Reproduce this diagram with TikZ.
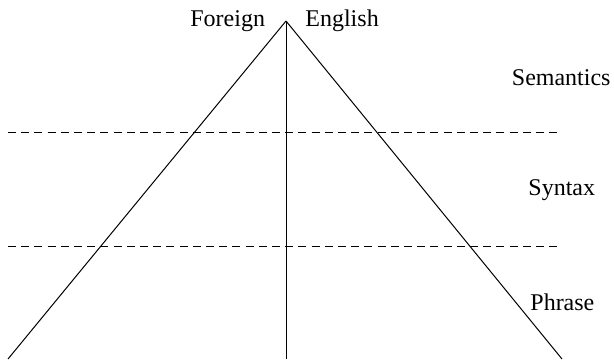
\documentclass[tikz,border=0pt]{standalone}
\usepackage{fontspec}
\setmainfont{Liberation Serif}
\usetikzlibrary{positioning,calc}

\begin{document}
\begin{tikzpicture}[
    x=0.5pt, y=-0.5pt,
    label/.style={inner sep=0pt, anchor=base west, font=\fontsize{12}{14}\selectfont},
    side/.style={draw=black, line width=0.5pt},
    level/.style={draw=black, line width=0.5pt, dash pattern=on 4pt off 2.6pt}
]
\useasboundingbox (0,0) rectangle (614,359);

\coordinate (top) at (286,21);
\coordinate (bl) at (8,359);
\coordinate (bm) at (286,359);
\coordinate (br) at (562,359);
\coordinate (s1) at (8,132.5);
\coordinate (e1) at (560,132.5);
\coordinate (s2) at (8,246);
\coordinate (e2) at (560,246);

\node[label] (foreign) at (190,26.7) {Foreign};
\node[label] (english) at (305,26.7) {English};
\node[label] (semantics) at (511.5,85) {Semantics};
\node[label] (syntax) at (528,195) {Syntax};
\node[label] (phrase) at (530,310) {Phrase};

\path[side] (top) -- (bl);
\path[side] (top) -- (bm);
\path[side] (top) -- (br);
\path[level] (s1) -- (e1);
\path[level] (s2) -- (e2);

\end{tikzpicture}
\end{document}
